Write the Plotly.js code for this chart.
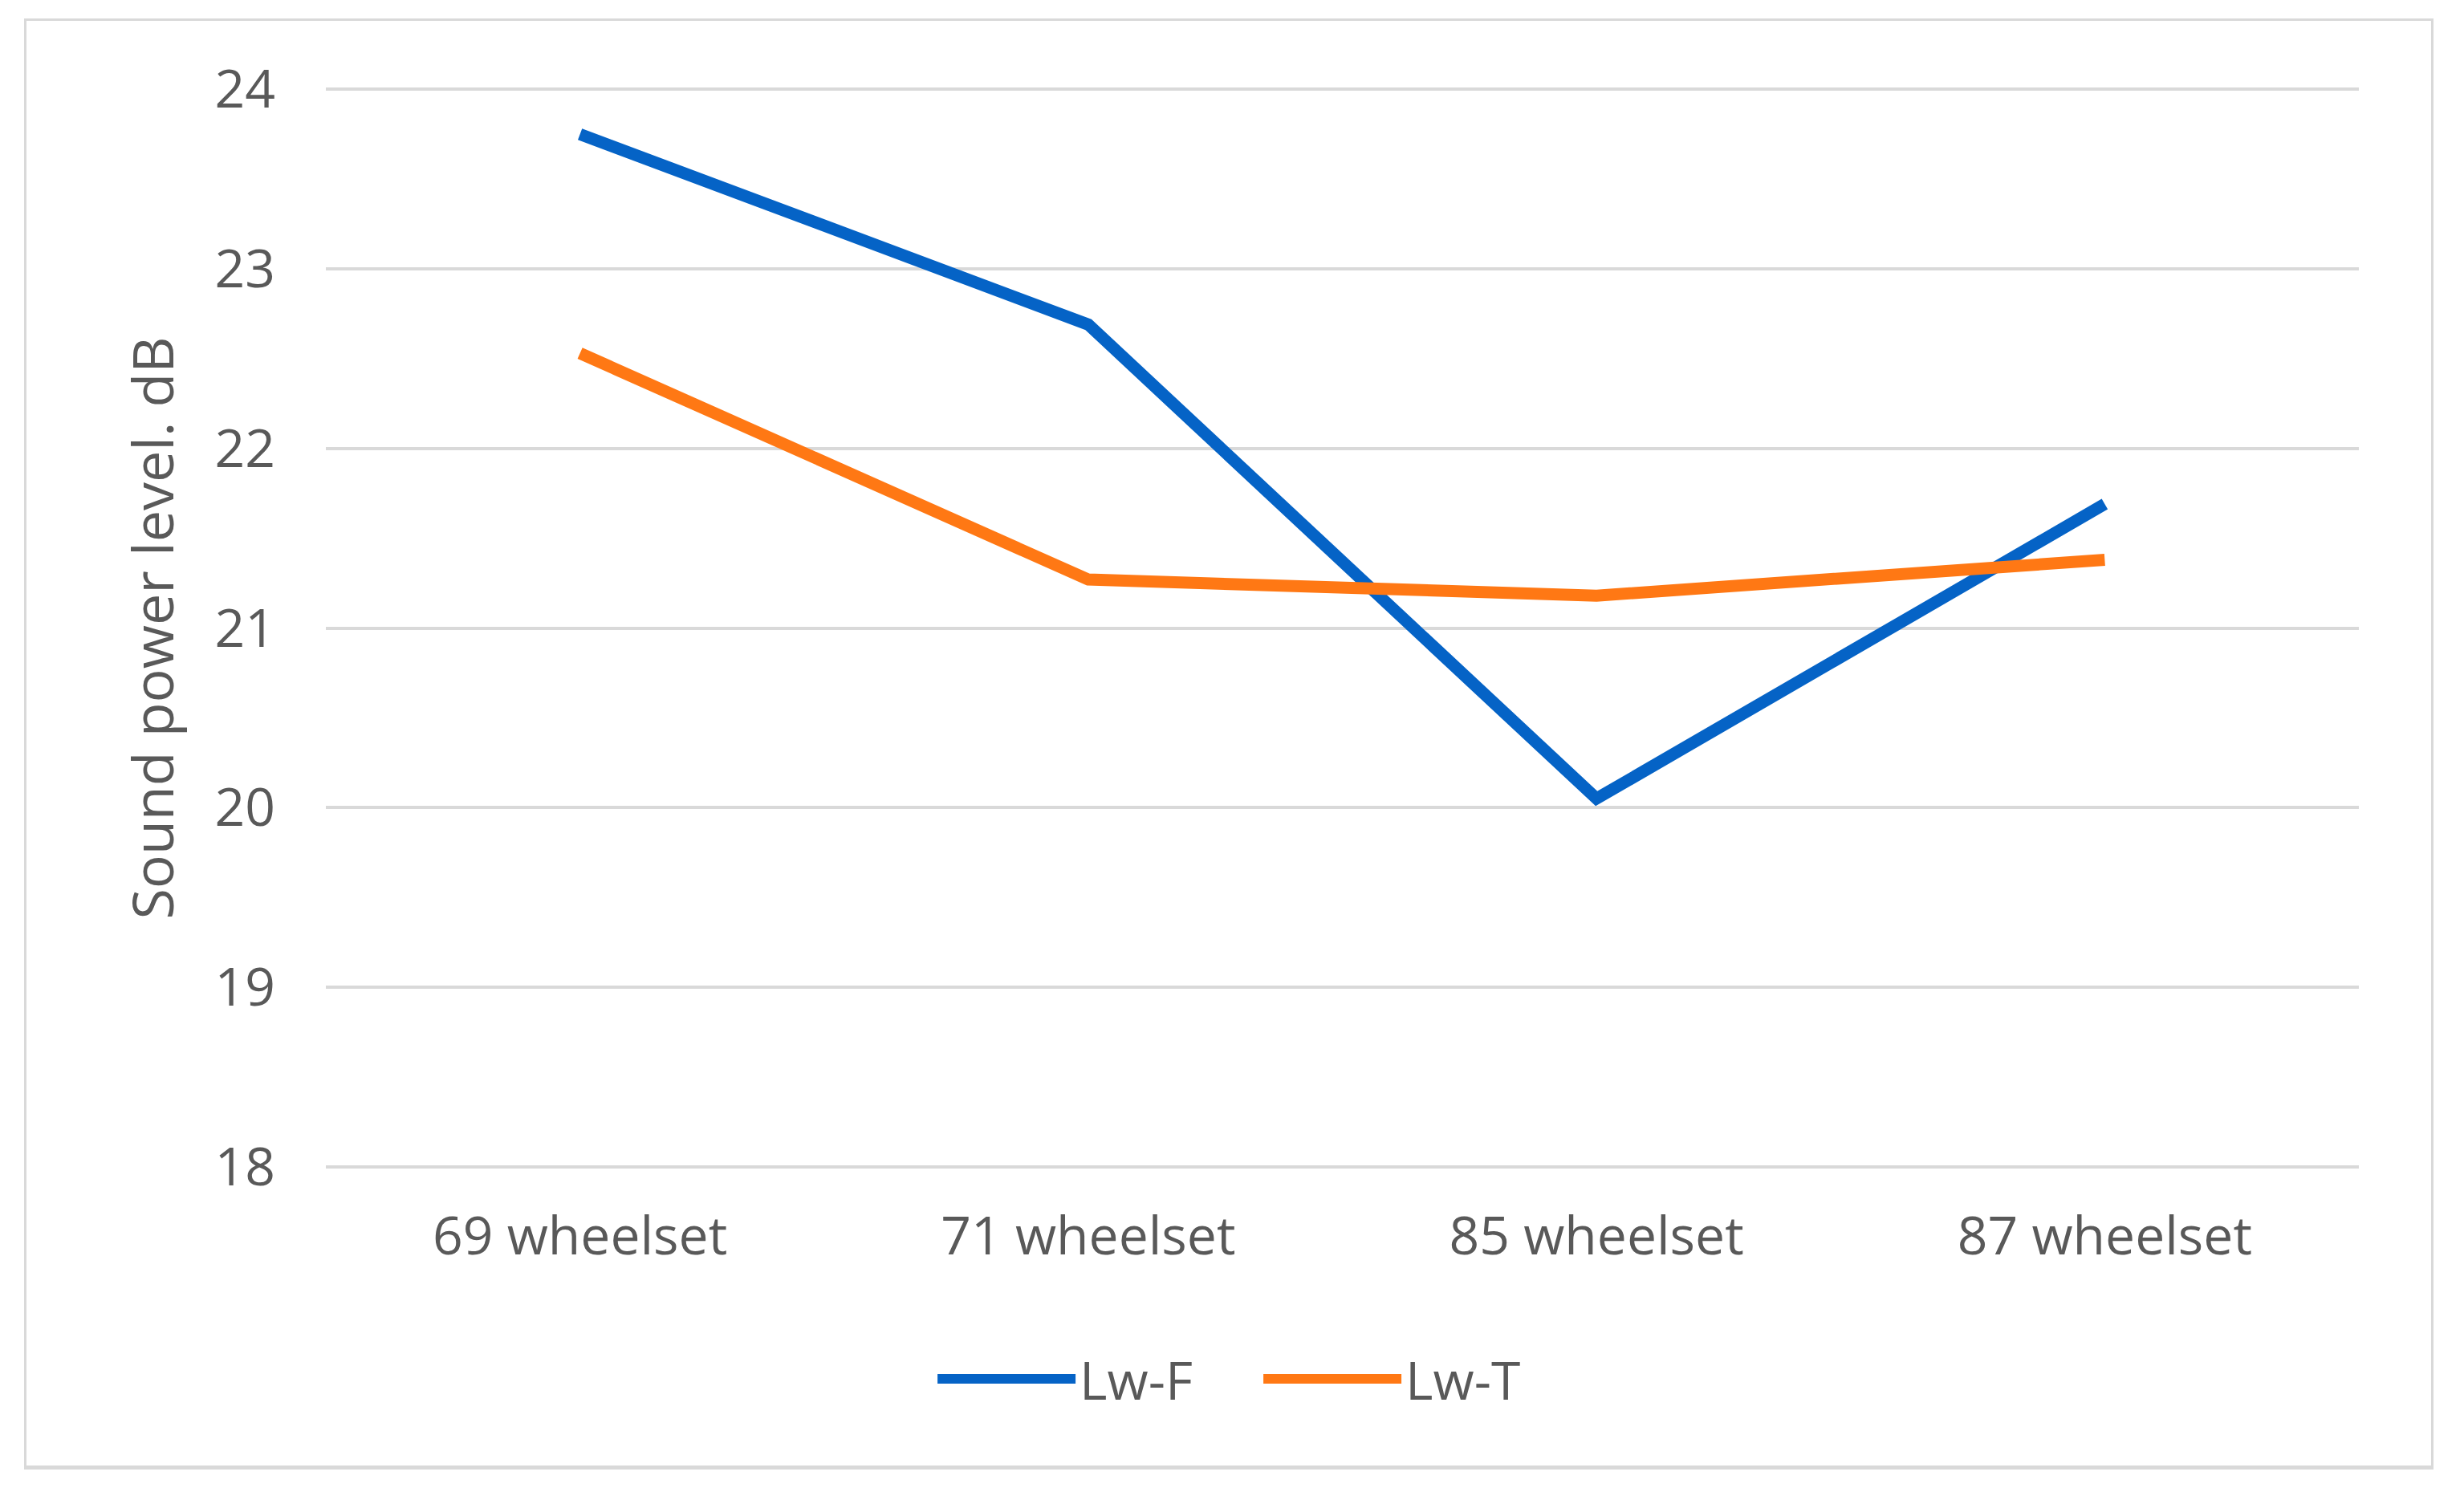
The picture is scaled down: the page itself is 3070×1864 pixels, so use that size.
<!DOCTYPE html>
<html>
<head>
<meta charset="utf-8">
<script src="https://cdn.plot.ly/plotly-3.0.1.min.js"></script>
<style>
  html, body { margin: 0; padding: 0; background: #ffffff; }
  #frame {
    position: absolute; left: 30px; top: 23px;
    width: 3002px; height: 1808px;
    box-sizing: border-box;
    border: 3px solid #d9d9d9;
    border-bottom-width: 5px;
    background: #ffffff;
  }
  #chart { width: 2996px; height: 1800px; }
</style>
</head>
<body>
<div id="frame"><div id="chart"></div></div>
<script>
// ---- data ----
const categories = ["69 wheelset", "71 wheelset", "85 wheelset", "87 wheelset"];
const lwF = [23.75, 22.69, 20.05, 21.69];
const lwT = [22.53, 21.27, 21.18, 21.38];
const yTicks = [18, 19, 20, 21, 22, 23, 24];
const seriesNames = ["Lw-F", "Lw-T"];
const yTitle = "Sound power level. dB";

const font = "'Open Sans', 'Noto Sans', sans-serif";
const textColor = "#595959";

const traces = [
  { x: categories, y: lwF, name: seriesNames[0], type: "scatter", mode: "lines",
    line: { color: "#0563C6", width: 15 } },
  { x: categories, y: lwT, name: seriesNames[1], type: "scatter", mode: "lines",
    line: { color: "#FF7814", width: 15 } }
];

const layout = {
  width: 2996, height: 1800,
  paper_bgcolor: "#ffffff", plot_bgcolor: "#ffffff",
  margin: { l: 373, r: 90, t: 83, b: 370 },
  font: { family: font, size: 66, color: textColor },
  showlegend: true,
  legend: {
    orientation: "h",
    xref: "container", yref: "container",
    x: 0.3772, xanchor: "left",
    y: 0.06, yanchor: "middle",
    itemwidth: 172,
    entrywidth: 219,
    font: { family: font, size: 66, color: textColor },
    bgcolor: "rgba(0,0,0,0)",
    traceorder: "normal"
  },
  xaxis: {
    type: "category",
    range: [-0.5, 3.5],
    showgrid: false, zeroline: false, showline: false,
    ticks: "",
    tickfont: { family: font, size: 66, color: textColor },
    ticklabelstandoff: 40
  },
  yaxis: {
    range: [17.99, 24.01],
    tickvals: yTicks,
    ticktext: yTicks.map(String),
    showgrid: true, gridcolor: "#d9d9d9", gridwidth: 4,
    zeroline: false, showline: false,
    ticks: "",
    tickfont: { family: font, size: 66, color: textColor },
    ticklabelstandoff: 62,
    title: { text: yTitle, font: { family: font, size: 70, color: textColor }, standoff: 28 }
  }
};

Plotly.newPlot("chart", traces, layout, { displayModeBar: false, staticPlot: true }).then(function (gd) {
  // thicken legend line symbols to match the reference
  gd.querySelectorAll(".legendlines path").forEach(function (p) {
    p.style.strokeWidth = "12px";
  });
});
</script>
</body>
</html>
